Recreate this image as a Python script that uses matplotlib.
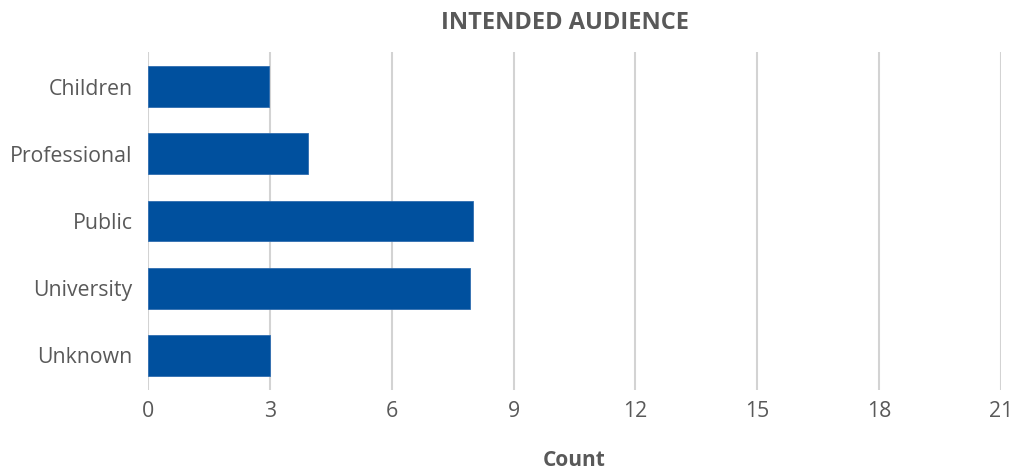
import matplotlib.pyplot as plt
import numpy as np

plt.rcParams['font.family'] = ['Open Sans', 'DejaVu Sans']

categories = ['Children', 'Professional', 'Public', 'University', 'Unknown']
counts = [2.97, 3.95, 8.0, 7.92, 3.0]
xticks = [0, 3, 6, 9, 12, 15, 18, 21]

grey = '#595959'

fig = plt.figure(figsize=(10.16, 4.71), dpi=100)
ax = fig.add_axes([148 / 1016, 1 - 390 / 471, (1001 - 148) / 1016, (390 - 52) / 471])

y = np.arange(len(categories))
ax.barh(y, counts, height=0.61, color='#00509e', edgecolor='#2f6db0', linewidth=0.6, zorder=3)

ax.set_ylim(len(categories) - 0.48, -0.52)
ax.set_xlim(0, 21)
ax.set_yticks(y)
ax.set_yticklabels(categories)
ax.set_xticks(xticks)
ax.tick_params(axis='both', length=0, labelsize=15.3, labelcolor=grey)
ax.tick_params(axis='y', pad=11)
ax.tick_params(axis='x', pad=8)

ax.grid(axis='x', color='#d3d3d3', linewidth=1.5, zorder=0)
for s in ax.spines.values():
    s.set_visible(False)

fig.text(574 / 1016, 1 - 461 / 471, 'Count', ha='center', va='center',
         fontsize=15, fontweight='bold', color=grey)
fig.text(565 / 1016, 1 - 23 / 471, 'INTENDED AUDIENCE', ha='center', va='center',
         fontsize=17, fontweight='bold', color=grey)

plt.savefig('out.png', dpi=100)
plt.close()
